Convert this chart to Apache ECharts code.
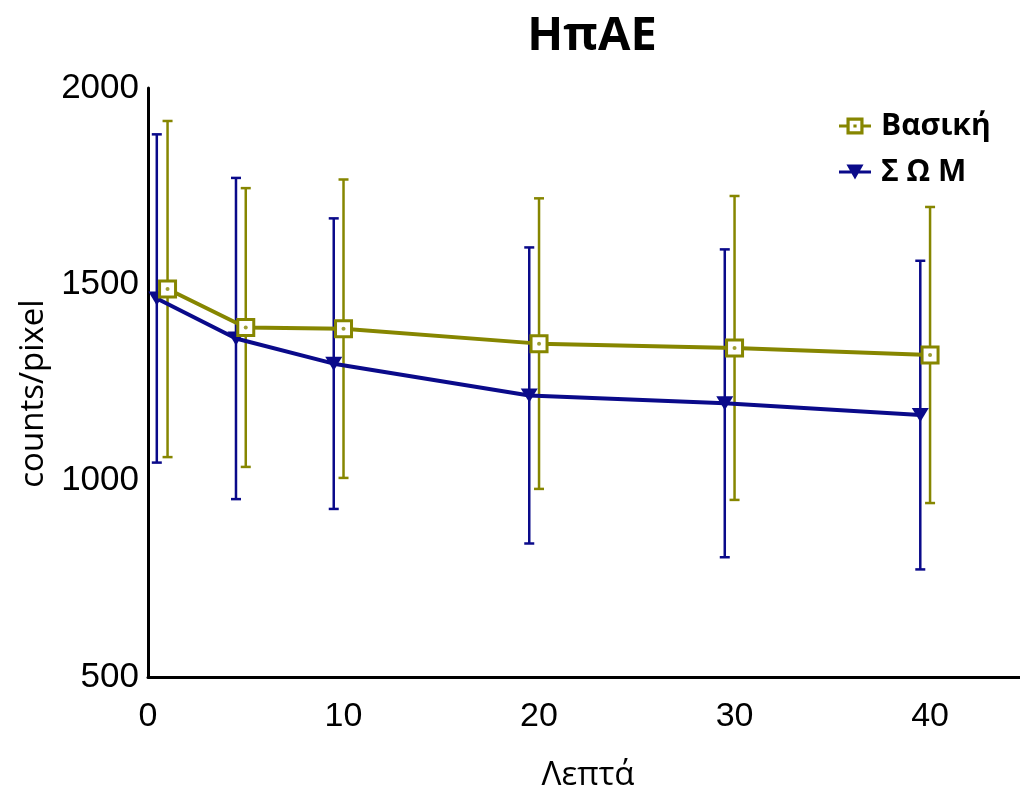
<!DOCTYPE html>
<html><head><meta charset="utf-8">
<script src="https://cdn.jsdelivr.net/npm/echarts@6/dist/echarts.min.js"></script>
<style>html,body{margin:0;padding:0;background:#fff}#c{width:1020px;height:792px}</style>
</head><body><div id="c"></div>
<script>
const seriesNames = ['Βασική', 'Σ Ω Μ'];
const basX = [1, 5, 10, 20, 30, 40];
const basMean = [1488, 1390, 1387, 1349, 1338, 1320];
const basErr = [428, 355, 380, 370, 387, 377];
const somX = [0.45, 4.5, 9.5, 19.5, 29.5, 39.5];
const somMean = [1464, 1362, 1298, 1217, 1197, 1167];
const somErr = [418, 409, 370, 377, 392, 393];
const yTicks = [500, 1000, 1500, 2000];
const xTicks = [0, 10, 20, 30, 40];

const OLIVE = '#868600', NAVY = '#0a0a8a';
const basData = basX.map((x, i) => [x, basMean[i]]);
const somData = somX.map((x, i) => [x, somMean[i]]);
const basErrData = basX.map((x, i) => [x, basMean[i], basErr[i]]);
const somErrData = somX.map((x, i) => [x, somMean[i], somErr[i]]);

function errRender(color) {
  return function (params, api) {
    const x = api.value(0), y = api.value(1), e = api.value(2);
    const t = api.coord([x, y + e]), b = api.coord([x, y - e]);
    const w = 5;
    const st = { stroke: color, lineWidth: 2.5 };
    return { type: 'group', children: [
      { type: 'line', shape: { x1: t[0], y1: t[1], x2: b[0], y2: b[1] }, style: st },
      { type: 'line', shape: { x1: t[0] - w, y1: t[1], x2: t[0] + w, y2: t[1] }, style: st },
      { type: 'line', shape: { x1: b[0] - w, y1: b[1], x2: b[0] + w, y2: b[1] }, style: st }
    ]};
  };
}

const basIcon = 'path://M0 7.5L7 7.5L7 10.5L0 10.5Z M23 7.5L30 7.5L30 10.5L23 10.5Z M7 1L23 1L23 17L7 17Z M10 4L10 14L20 14L20 4Z M13.5 7.5L16.5 7.5L16.5 10.5L13.5 10.5Z';
const somIcon = 'path://M0 7.5L30 7.5L30 10.5L0 10.5Z M7 2L23 2L15 16Z';

const chart = echarts.init(document.getElementById('c'));
chart.setOption({
  animation: false,
  backgroundColor: '#fff',
  title: { text: 'ΗπΑΕ', left: 587, top: 8, textAlign: 'center',
    textStyle: { fontFamily: 'Open Sans', fontWeight: 'bold', fontSize: 47, color: '#000' } },
  legend: {
    orient: 'vertical', left: 834, top: 106, itemWidth: 32, itemHeight: 18, itemGap: 16,
    textStyle: { fontFamily: 'Open Sans', fontWeight: 'bold', fontSize: 30, color: '#000', padding: [0, 0, 0, 5] },
    data: [
      { name: seriesNames[0], icon: basIcon, itemStyle: { color: OLIVE } },
      { name: seriesNames[1], icon: somIcon, itemStyle: { color: NAVY } }
    ]
  },
  grid: { left: 148, right: 0, top: 88, bottom: 115, containLabel: false, outerBoundsMode: 'none' },
  xAxis: {
    type: 'value', min: 0, max: 44.6, interval: 10,
    name: 'Λεπτά', nameLocation: 'middle', nameGap: 82,
    nameTextStyle: { fontFamily: 'Open Sans', fontSize: 33, color: '#000', padding: [0, 0, 0, 8] },
    axisLine: { lineStyle: { color: '#000', width: 3 } },
    axisTick: { show: false }, splitLine: { show: false },
    axisLabel: { fontFamily: 'Liberation Sans', fontSize: 34, color: '#000', margin: 23,
      formatter: v => xTicks.includes(v) ? String(v) : '' }
  },
  yAxis: {
    type: 'value', min: 500, max: 2000, interval: 500,
    name: 'counts/pixel', nameLocation: 'middle', nameGap: 93,
    nameTextStyle: { fontFamily: 'Open Sans', fontSize: 33, color: '#000', padding: [0, 22, 0, 0] },
    axisLine: { show: true, lineStyle: { color: '#000', width: 3 } },
    axisTick: { show: false }, splitLine: { show: false },
    axisLabel: { fontFamily: 'Liberation Sans', fontSize: 35, color: '#000', margin: 9,
      formatter: v => yTicks.includes(v) ? String(v) : '' }
  },
  series: [
    { type: 'custom', name: seriesNames[1], data: somErrData, renderItem: errRender(NAVY), encode: { x: 0, y: 1 }, z: 2 },
    { type: 'custom', name: seriesNames[0], data: basErrData, renderItem: errRender(OLIVE), encode: { x: 0, y: 1 }, z: 2 },
    { type: 'line', name: seriesNames[1], data: somData, symbol: 'triangle', symbolRotate: 180, symbolSize: [17, 14],
      lineStyle: { color: NAVY, width: 4 }, itemStyle: { color: NAVY }, z: 3 },
    { type: 'line', name: seriesNames[0], data: basData, symbol: 'rect', symbolSize: 16,
      lineStyle: { color: OLIVE, width: 4 }, itemStyle: { color: '#fff', borderColor: OLIVE, borderWidth: 3 }, z: 4 },
    { type: 'scatter', name: seriesNames[0], data: basData, symbol: 'circle', symbolSize: 4,
      itemStyle: { color: OLIVE }, z: 5 }
  ]
});
</script></body></html>
